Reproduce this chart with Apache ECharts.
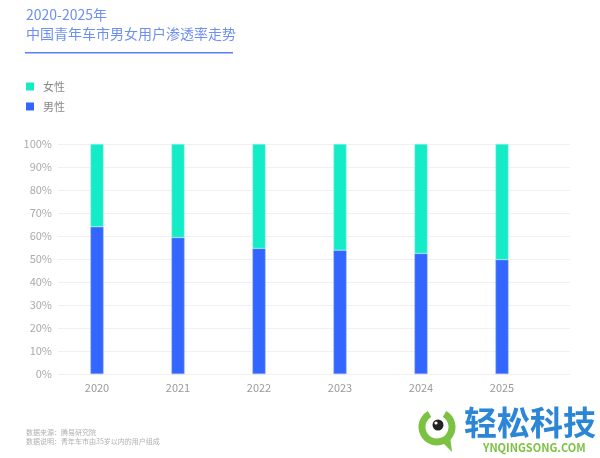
<!DOCTYPE html>
<html>
<head>
<meta charset="utf-8">
<script src="https://cdn.jsdelivr.net/npm/echarts@6/dist/echarts.min.js"></script>
<style>
  html, body { margin: 0; padding: 0; background: #fff; }
  #main { width: 600px; height: 458px; }
</style>
</head>
<body>
<div id="main"></div>
<script>
var years = ['2020', '2021', '2022', '2023', '2024', '2025'];
var male = [64, 59.3, 54.6, 53.8, 52.4, 49.7];
var female = [36, 40.7, 45.4, 46.2, 47.6, 50.3];
var yTicks = [0, 10, 20, 30, 40, 50, 60, 70, 80, 90, 100];

var font = '"Noto Sans CJK SC", "Noto Sans", sans-serif';
var myChart = echarts.init(document.getElementById('main'));

myChart.setOption({
  backgroundColor: '#fff',
  textStyle: { fontFamily: font },
  animation: false,
  title: {
    text: '2020-2025年\n中国青年车市男女用户渗透率走势',
    left: 21,
    top: 0,
    textStyle: { color: '#6e8ff2', fontSize: 14, fontWeight: 'normal', lineHeight: 19, fontFamily: font }
  },
  legend: {
    orient: 'vertical',
    left: 21,
    top: 76,
    itemWidth: 8,
    itemHeight: 8,
    itemGap: 9,
    icon: 'rect',
    data: ['女性', '男性'],
    itemStyle: { borderWidth: 0 },
    textStyle: { color: '#888', fontSize: 11, padding: [0, 0, 0, 4] }
  },
  grid: [
    { left: 58, right: 30, top: 144, bottom: 84 },
    { left: 56.5, width: 486, top: 144, bottom: 84 }
  ],
  xAxis: [
    { type: 'category', gridIndex: 0, data: years, show: false },
    {
      type: 'category', gridIndex: 1, data: years,
      axisLine: { show: false }, axisTick: { show: false },
      axisLabel: { color: '#999', fontSize: 11, margin: 8 }
    }
  ],
  yAxis: [
    {
      type: 'value', gridIndex: 0, min: 0, max: 100, interval: 10,
      axisLine: { show: false }, axisTick: { show: false },
      axisLabel: { color: '#aaa', fontSize: 11, margin: 6, formatter: function (v) { return yTicks.indexOf(v) >= 0 ? v + '%' : ''; } },
      splitLine: { lineStyle: { color: '#f0f0f0', width: 1 } }
    },
    { type: 'value', gridIndex: 1, min: 0, max: 100, show: false }
  ],
  series: [
    {
      name: '男性', type: 'bar', stack: 'total', xAxisIndex: 1, yAxisIndex: 1,
      data: male, barWidth: 13,
      itemStyle: { color: '#3366ff', borderColor: '#8fa8ff', borderWidth: 0.5 }
    },
    {
      name: '女性', type: 'bar', stack: 'total', xAxisIndex: 1, yAxisIndex: 1,
      data: female, barWidth: 13,
      itemStyle: { color: '#14ecc8', borderColor: '#9ff5e6', borderWidth: 0.5 }
    }
  ],
  graphic: [
    { type: 'rect', shape: { x: 25, y: 52, width: 208, height: 1.5 }, style: { fill: '#5b7ff0' } },
    { type: 'text', left: 26, top: 428, style: { text: '数据来源：腾易研究院\n数据说明：青年车市由35岁以内的用户组成', fill: '#b0b0b0', font: '7px ' + font, lineHeight: 9 } },
    // logo
    { type: 'arc', shape: { cx: 437, cy: 427, r: 15, startAngle: -Math.PI / 3, endAngle: Math.PI * 4 / 3 }, style: { stroke: '#7cc242', lineWidth: 7, fill: null } },
    { type: 'polygon', shape: { points: [[440, 440], [450, 436], [452, 452]] }, style: { fill: '#7cc242' } },
    { type: 'circle', shape: { cx: 438, cy: 425, r: 5.5 }, style: { fill: '#222' } },
    { type: 'circle', shape: { cx: 436, cy: 423, r: 1.6 }, style: { fill: '#fff' } },
    { type: 'text', left: 464, top: 406, style: { text: '轻松科技', fill: '#2b86d6', font: 'bold 33px ' + font } },
    { type: 'text', left: 483, top: 442, style: { text: 'YNQINGSONG.COM', fill: '#7cc242', font: 'bold 11px ' + font } }
  ]
});
</script>
</body>
</html>
